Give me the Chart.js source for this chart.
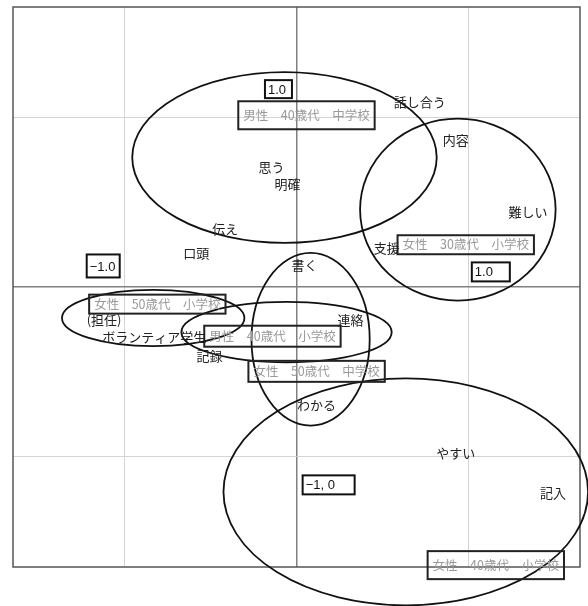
<!DOCTYPE html>
<html><head><meta charset="utf-8">
<script src="https://cdn.jsdelivr.net/npm/chart.js@4/dist/chart.umd.min.js"></script>
<style>html,body{margin:0;padding:0;background:#fff}#wrap{width:588px;height:606px;position:relative}</style>
</head><body><div id="wrap"><canvas id="c"></canvas></div>
<script>
// ---- data (coordinates in axis units) ----
const words  = ['話し合う','内容','思う','明確','難しい','伝え','口頭','支援','書く','連絡','(担任)','ボランティア学生','記録','わかる','やすい','記入'];
const wordX  = [0.717, 0.927, -0.146, -0.052, 1.347, -0.414, -0.583, 0.525, 0.047, 0.315, -1.120, -0.828, -0.507, 0.117, 0.927, 1.493];
const wordY  = [1.089, 0.864, 0.704, 0.609, 0.444, 0.343, 0.201, 0.231, 0.130, -0.195, -0.195, -0.296, -0.408, -0.698, -0.976, -1.213];

const groups = ['男性　40歳代　中学校','女性　30歳代　小学校','女性　50歳代　小学校','男性　40歳代　小学校','女性　50歳代　中学校','女性　40歳代　小学校'];
const groupX = [0.058, 0.985, -0.810, -0.140, 0.117, 1.160];
const groupY = [1.012, 0.249, -0.101, -0.290, -0.497, -1.639];

const axisMarks = ['1.0', '−1.0', '1.0', '−1, 0'];
const axisMarkX = [-0.105, -1.125, 1.131, 0.187];
const axisMarkY = [1.166, 0.124, 0.089, -1.166];

const ellipseCX = [-0.070, 0.939, 0.082, -0.834, -0.058, 0.636];
const ellipseCY = [0.763, 0.456, -0.308, -0.183, -0.266, -1.207];
const ellipseRX = [0.886, 0.569, 0.344, 0.531, 0.612, 1.061];
const ellipseRY = [0.503, 0.536, 0.509, 0.166, 0.178, 0.669];

const axisMin = -1.65, axisMax = 1.65;

// ---- styles ----
const groupBoxH = [28, 19, 19, 21, 21, 28];
const markBoxW = [27, 33, 38, 52];
const markBoxH = [18, 23, 19, 19];
const JP = '"Noto Sans CJK JP", "Noto Sans", sans-serif';

const overlay = {
  id: 'overlay',
  afterDraw(chart) {
    const ctx = chart.ctx, a = chart.chartArea;
    const xs = chart.scales.x, ys = chart.scales.y;
    ctx.save();
    // frame
    ctx.strokeStyle = '#555'; ctx.lineWidth = 1.5;
    ctx.strokeRect(a.left, a.top, a.right - a.left, a.bottom - a.top);
    // ellipses
    ctx.strokeStyle = '#111'; ctx.lineWidth = 1.8;
    for (let i = 0; i < ellipseCX.length; i++) {
      const cx = xs.getPixelForValue(ellipseCX[i]);
      const cy = ys.getPixelForValue(ellipseCY[i]);
      const rx = Math.abs(xs.getPixelForValue(ellipseCX[i] + ellipseRX[i]) - cx);
      const ry = Math.abs(ys.getPixelForValue(ellipseCY[i] + ellipseRY[i]) - cy);
      ctx.beginPath(); ctx.ellipse(cx, cy, rx, ry, 0, 0, Math.PI * 2); ctx.stroke();
    }
    // words
    ctx.textAlign = 'center'; ctx.textBaseline = 'middle';
    ctx.font = '13px ' + JP; ctx.fillStyle = '#222';
    chart.getDatasetMeta(0).data.forEach((p, i) => ctx.fillText(words[i], p.x, p.y));
    // groups
    ctx.font = '12.5px ' + JP;
    chart.getDatasetMeta(1).data.forEach((p, i) => {
      const w = ctx.measureText(groups[i]).width + 10, h = groupBoxH[i];
      ctx.fillStyle = '#999'; ctx.fillText(groups[i], p.x, p.y);
      ctx.strokeStyle = '#222'; ctx.lineWidth = 2;
      ctx.strokeRect(p.x - w / 2, p.y - h / 2, w, h);
    });
    // axis marks
    ctx.font = '13px "Liberation Sans", Arial, sans-serif';
    ctx.textAlign = 'left';
    chart.getDatasetMeta(2).data.forEach((p, i) => {
      const w = markBoxW[i], h = markBoxH[i];
      ctx.fillStyle = '#111'; ctx.fillText(axisMarks[i], p.x - w / 2 + 3, p.y + 1);
      ctx.strokeStyle = '#111'; ctx.lineWidth = 2;
      ctx.strokeRect(p.x - w / 2, p.y - h / 2, w, h);
    });
    ctx.restore();
  }
};

const gridColor = c => c.tick.value === 0 ? '#808080' : (Math.abs(c.tick.value) === 1 ? '#d4d4d4' : 'rgba(0,0,0,0)');
const gridWidth = c => c.tick.value === 0 ? 1.5 : 1;
const scaleOpts = {
  type: 'linear', min: axisMin, max: axisMax,
  ticks: { display: false, stepSize: 1 },
  grid: { color: gridColor, lineWidth: gridWidth, drawTicks: false },
  border: { display: false }
};

new Chart(document.getElementById('c'), {
  type: 'scatter',
  data: {
    datasets: [
      { label: 'words', data: words.map((w, i) => ({ x: wordX[i], y: wordY[i] })), pointRadius: 0 },
      { label: 'groups', data: groups.map((g, i) => ({ x: groupX[i], y: groupY[i] })), pointRadius: 0 },
      { label: 'axis', data: axisMarks.map((m, i) => ({ x: axisMarkX[i], y: axisMarkY[i] })), pointRadius: 0 }
    ]
  },
  options: {
    responsive: true, maintainAspectRatio: false, animation: false,
    layout: { padding: { left: 13, right: 8, top: 7, bottom: 39 } },
    plugins: { legend: { display: false }, tooltip: { enabled: false } },
    scales: { x: scaleOpts, y: scaleOpts }
  },
  plugins: [overlay]
});
</script></body></html>
